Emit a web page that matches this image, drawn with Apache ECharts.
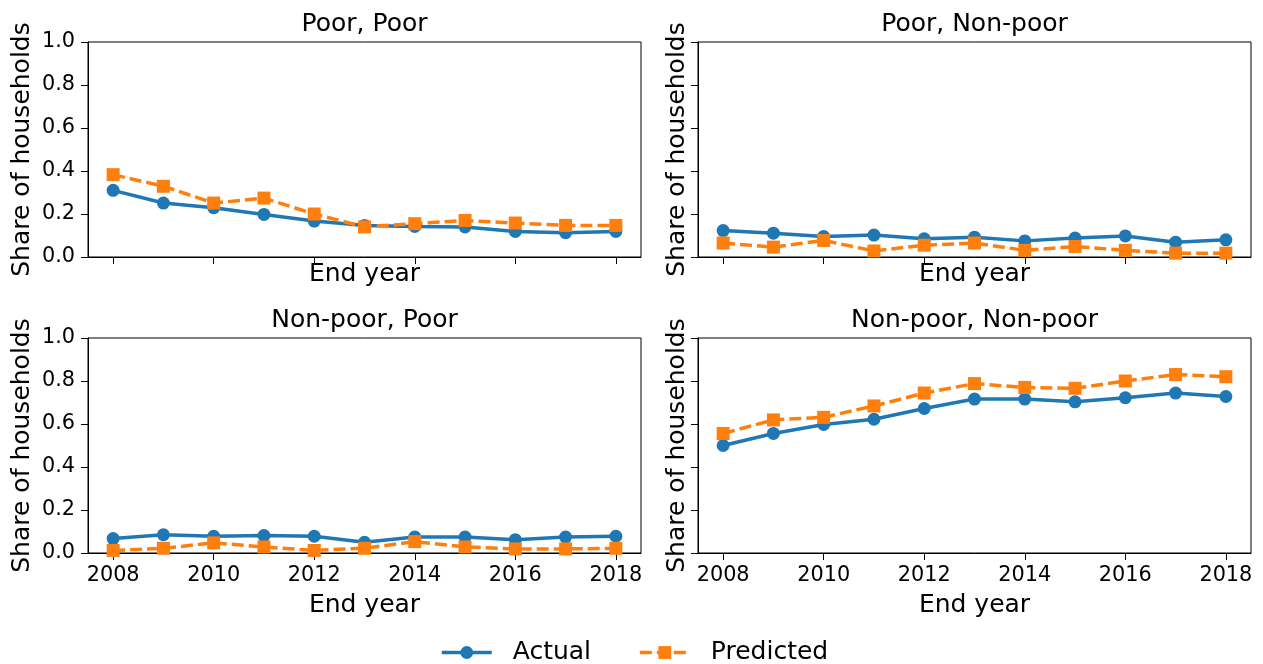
<!DOCTYPE html>
<html>
<head>
<meta charset="utf-8">
<script src="https://cdn.jsdelivr.net/npm/echarts@6/dist/echarts.min.js"></script>
<style>
html,body{margin:0;padding:0;background:#fff;}
#chart{width:1263px;height:664px;}
</style>
</head>
<body>
<div id="chart"></div>
<script>
const years = ['2008','2009','2010','2011','2012','2013','2014','2015','2016','2017','2018'];
const yTicks = [0, 0.2, 0.4, 0.6, 0.8, 1.0];
const panelTitles = ['Poor, Poor', 'Poor, Non-poor', 'Non-poor, Poor', 'Non-poor, Non-poor'];
const seriesNames = ['Actual', 'Predicted'];

const poorPoorActual    = [0.310, 0.251, 0.229, 0.198, 0.167, 0.147, 0.142, 0.140, 0.119, 0.113, 0.119];
const poorPoorPred      = [0.383, 0.329, 0.251, 0.274, 0.200, 0.140, 0.155, 0.170, 0.158, 0.147, 0.147];
const poorNonActual     = [0.123, 0.111, 0.095, 0.102, 0.085, 0.092, 0.075, 0.088, 0.098, 0.069, 0.080];
const poorNonPred       = [0.065, 0.046, 0.077, 0.028, 0.055, 0.065, 0.031, 0.049, 0.031, 0.018, 0.018];
const nonPoorActual     = [0.067, 0.085, 0.078, 0.081, 0.078, 0.050, 0.074, 0.074, 0.062, 0.074, 0.078];
const nonPoorPred       = [0.012, 0.022, 0.047, 0.028, 0.012, 0.022, 0.053, 0.028, 0.019, 0.019, 0.022];
const nonNonActual      = [0.500, 0.556, 0.598, 0.622, 0.672, 0.716, 0.716, 0.703, 0.722, 0.744, 0.728];
const nonNonPred        = [0.556, 0.619, 0.631, 0.684, 0.744, 0.788, 0.770, 0.766, 0.800, 0.830, 0.820];

const actualData = [poorPoorActual, poorNonActual, nonPoorActual, nonNonActual];
const predData = [poorPoorPred, poorNonPred, nonPoorPred, nonNonPred];

const FONT = 'DejaVu Sans';
const BLUE = '#1f77b4', ORANGE = '#ff7f0e';

const panels = [
  {left: 88, top: 42, showX: false, showY: true},
  {left: 698, top: 42, showX: false, showY: false},
  {left: 88, top: 338, showX: true, showY: true},
  {left: 698, top: 338, showX: true, showY: false}
];
const W = 553, H = 215;

const grids = [], xAxes = [], yAxes = [], series = [], titles = [];
panels.forEach((p, i) => {
  grids.push({left: p.left, top: p.top, width: W, height: H, show: true,
    borderColor: '#000', borderWidth: 1, backgroundColor: 'transparent', containLabel: false});
  titles.push({text: panelTitles[i], left: p.left + W / 2, top: p.top - 30, textAlign: 'center', padding: 0,
    textStyle: {fontFamily: FONT, fontSize: 25, fontWeight: 'normal', color: '#000'}});
  xAxes.push({type: 'category', gridIndex: i, data: years, boundaryGap: true,
    name: 'End year', nameLocation: 'middle', nameGap: p.showX ? 40 : 5,
    nameTextStyle: {fontFamily: FONT, fontSize: 25, color: '#000'},
    axisLine: {show: true, lineStyle: {color: '#000', width: 1}},
    axisTick: {show: true, alignWithLabel: true, interval: 1, length: 7, lineStyle: {color: '#000', width: 1}},
    axisLabel: {show: p.showX, interval: 1, margin: 12, fontFamily: FONT, fontSize: 20.8, color: '#000'},
    splitLine: {show: false}});
  yAxes.push({type: 'value', gridIndex: i, min: 0, max: 1, interval: 0.2,
    name: 'Share of households', nameLocation: 'middle', nameRotate: 90, nameGap: p.showY ? 53 : 8,
    nameTextStyle: {fontFamily: FONT, fontSize: 25, color: '#000'},
    axisLine: {show: true, lineStyle: {color: '#000', width: 1}},
    axisTick: {show: true, length: 7, lineStyle: {color: '#000', width: 1}},
    axisLabel: {show: p.showY, margin: 13, fontFamily: FONT, fontSize: 20.8, color: '#000',
      formatter: v => v.toFixed(1)},
    splitLine: {show: false}});
  series.push({name: seriesNames[0], type: 'line', xAxisIndex: i, yAxisIndex: i, data: actualData[i],
    symbol: 'circle', symbolSize: 13, showAllSymbol: true,
    lineStyle: {color: BLUE, width: 3.5}, itemStyle: {color: BLUE}, z: 2});
  series.push({name: seriesNames[1], type: 'line', xAxisIndex: i, yAxisIndex: i, data: predData[i],
    symbol: 'rect', symbolSize: 13, showAllSymbol: true,
    lineStyle: {color: ORANGE, width: 3.5, type: [12, 5]}, itemStyle: {color: ORANGE}, z: 3});
});

const chart = echarts.init(document.getElementById('chart'), null, {renderer: 'canvas'});
chart.setOption({
  animation: false,
  backgroundColor: '#fff',
  textStyle: {fontFamily: FONT},
  title: titles,
  legend: {data: seriesNames, left: 440, top: 640, padding: 0, itemWidth: 50, itemHeight: 16, itemGap: 47,
    lineStyle: {width: 3.5},
    textStyle: {fontFamily: FONT, fontSize: 25, color: '#000', padding: [0, 0, 0, 16]}},
  grid: grids,
  xAxis: xAxes,
  yAxis: yAxes,
  series: series
});
</script>
</body>
</html>
